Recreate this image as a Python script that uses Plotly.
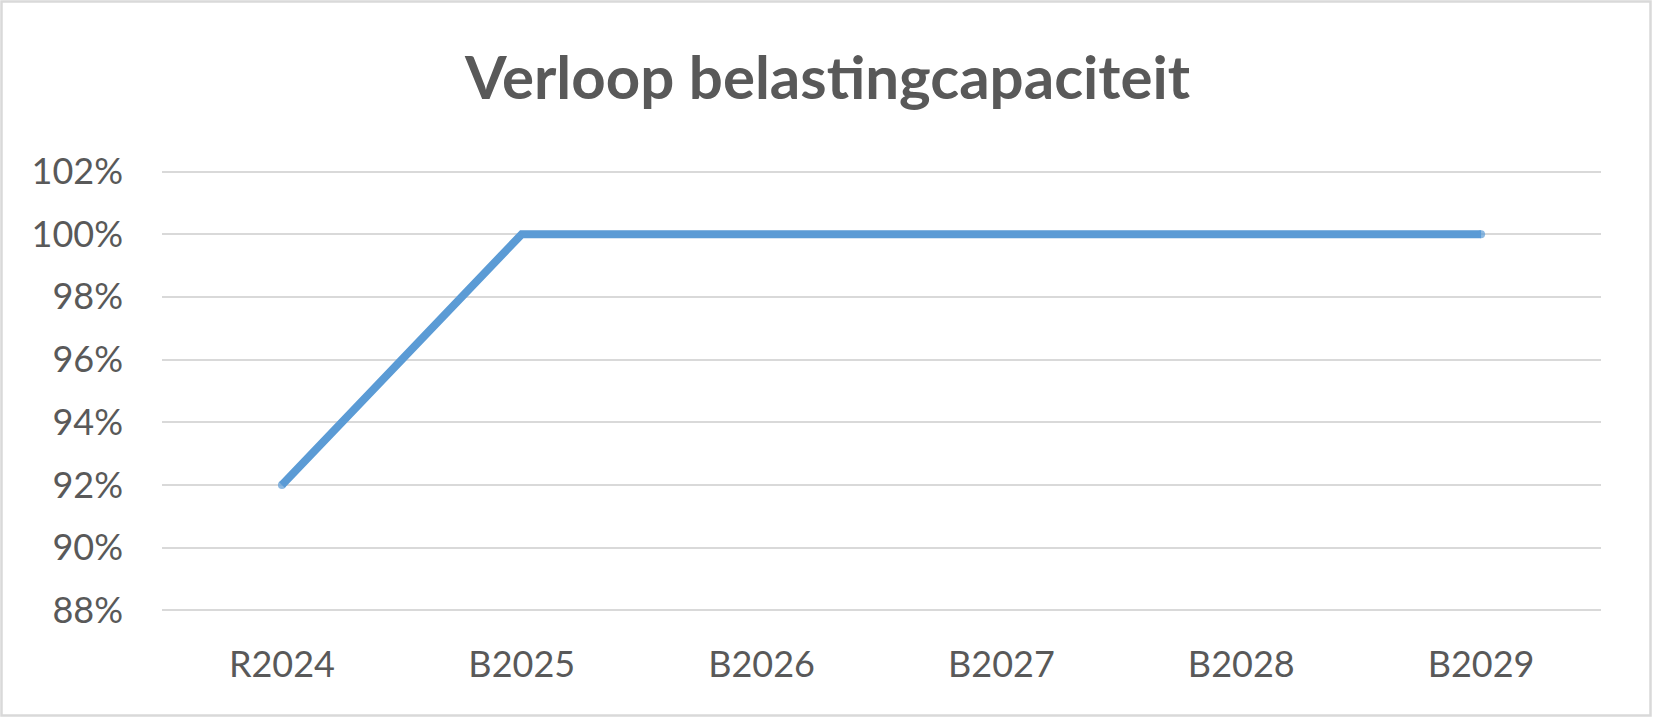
import plotly.graph_objects as go

categories = ["R2024", "B2025", "B2026", "B2027", "B2028", "B2029"]
values = [0.92, 1.00, 1.00, 1.00, 1.00, 1.00]
y_ticks = [0.88, 0.90, 0.92, 0.94, 0.96, 0.98, 1.00, 1.02]
y_labels = ["88%", "90%", "92%", "94%", "96%", "98%", "100%", "102%"]
title_text = "Verloop belastingcapaciteit"

W, H = 1653, 718
TXT = "#595959"
GRID = "#D9D9D9"
LINE = "#5B9BD5"
FONT = "Lato"

# pixel geometry of the plot area (gridline 102% at y=171.5, 88% at y=610.3)
y_top_px, y_bot_px = 171.5, 610.3
pad_px = 3
per_px = (1.02 - 0.88) / (y_bot_px - y_top_px)

# round caps only at the two ends of the line
cap_sizes = [8 if i in (0, len(categories) - 1) else 0 for i in range(len(categories))]

fig = go.Figure()
fig.add_trace(go.Scatter(
    x=categories, y=values, mode="lines+markers",
    line=dict(color=LINE, width=8),
    marker=dict(color=LINE, size=cap_sizes, line=dict(width=0)),
    hoverinfo="skip", showlegend=False,
))

fig.update_layout(
    width=W, height=H,
    margin=dict(l=0, r=0, t=0, b=0, autoexpand=False),
    paper_bgcolor="white", plot_bgcolor="white",
    font=dict(family=FONT, color=TXT),
    xaxis=dict(
        domain=[162 / W, 1601 / W],
        type="category", range=[-0.5, 5.5],
        showgrid=False, zeroline=False, showline=False, automargin=False,
        ticks="", tickfont=dict(family=FONT, size=36, color=TXT),
        ticklabelstandoff=27,
    ),
    yaxis=dict(
        domain=[1 - (y_bot_px + pad_px) / H, 1 - (y_top_px - pad_px) / H],
        range=[0.88 - pad_px * per_px, 1.02 + pad_px * per_px],
        tickvals=y_ticks, ticktext=y_labels,
        showgrid=True, gridcolor=GRID, gridwidth=2,
        zeroline=False, showline=False, automargin=False, ticks="",
        tickfont=dict(family=FONT, size=36, color=TXT),
        ticklabelstandoff=38,
    ),
    annotations=[dict(
        text="<b>" + title_text + "</b>", xref="paper", yref="paper",
        x=0.5, y=1 - 76 / H, xanchor="center", yanchor="middle",
        showarrow=False, font=dict(family=FONT, size=60, color=TXT),
    )],
    shapes=[dict(
        type="rect", xref="paper", yref="paper",
        x0=1.5 / W, x1=1 - 2.5 / W, y0=2.5 / H, y1=1 - 1.5 / H,
        line=dict(color=GRID, width=2.5), fillcolor="rgba(0,0,0,0)", layer="below",
    )],
)

fig.write_html(
    "out.html",
    config={"displayModeBar": False},
    post_script="document.body.style.margin='0';document.body.style.overflow='hidden';",
)
